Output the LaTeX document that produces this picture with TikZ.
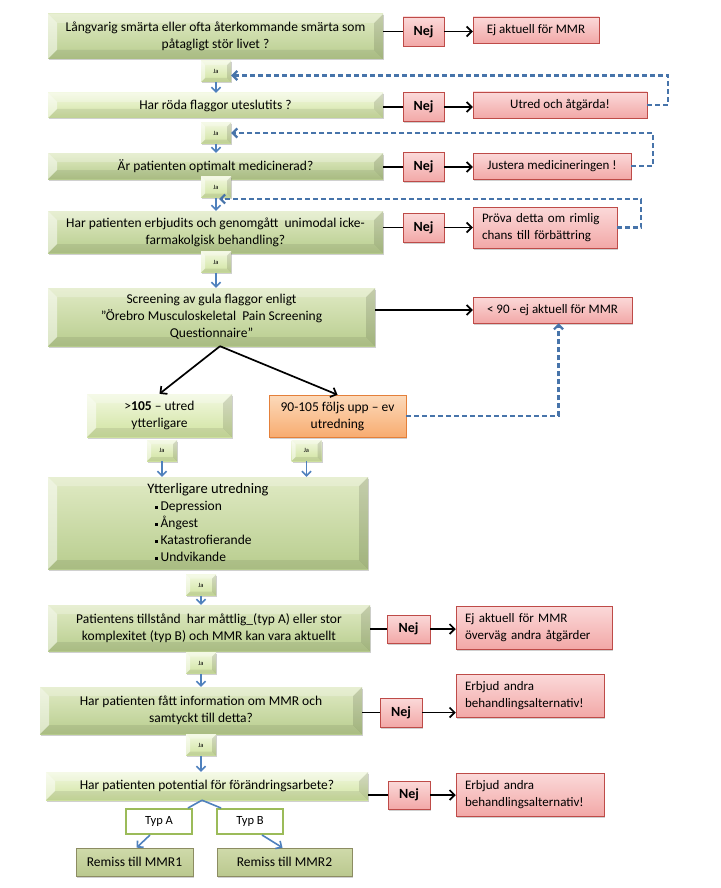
\documentclass[tikz,border=0pt]{standalone}
\usepackage{fontspec}
\setmainfont{Carlito}
\usetikzlibrary{arrows.meta,shadows,calc}
\definecolor{gtop}{HTML}{E0EAC4}
\definecolor{gbot}{HTML}{B8CD8E}
\definecolor{ltop}{HTML}{F2F8E0}
\definecolor{lbot}{HTML}{D0E3A0}
\definecolor{rtop}{HTML}{FBD9D9}
\definecolor{rbot}{HTML}{F2A8A7}
\definecolor{rdraw}{HTML}{BE4B48}
\definecolor{otop}{HTML}{FCDABB}
\definecolor{obot}{HTML}{F8AC70}
\definecolor{odraw}{HTML}{E4803A}
\definecolor{blu}{HTML}{4F81BD}
\definecolor{remtop}{HTML}{CFDAAA}
\definecolor{rembot}{HTML}{BAC88E}
\definecolor{remdraw}{HTML}{8C8C62}
\definecolor{typcol}{HTML}{9BBB59}
\newcommand\sqb{\raisebox{2.2pt}{\rule{3pt}{3pt}}\,}
\begin{document}
\begin{tikzpicture}[x=1pt,y=-1pt,
  bevel/.style={path picture={
    \fill[white,opacity=.5] (path picture bounding box.north west) -- ++(#1,#1)
      -- ($(path picture bounding box.south west)+(#1,-#1)$) -- (path picture bounding box.south west) -- cycle;
    \fill[black,opacity=.12] (path picture bounding box.north east) -- ++(-#1,#1)
      -- ($(path picture bounding box.south east)+(-#1,-#1)$) -- (path picture bounding box.south east) -- cycle;
    \fill[white,opacity=.25] (path picture bounding box.north west) -- ++(#1,#1)
      -- ($(path picture bounding box.north east)+(-#1,#1)$) -- (path picture bounding box.north east) -- cycle;
    \fill[black,opacity=.08] (path picture bounding box.south west) -- ++(#1,-#1)
      -- ($(path picture bounding box.south east)+(-#1,-#1)$) -- (path picture bounding box.south east) -- cycle;
  }},
  bevel/.default=9,
  shad/.style={drop shadow={shadow xshift=1pt,shadow yshift=-1.5pt,opacity=.3,fill=black!60}},
  base/.style={inner sep=2pt, align=center, font=\fontsize{13.5}{17}\selectfont, text=black},
  mainbox/.style={base, shad, top color=gtop, bottom color=gbot, bevel},
  litebox/.style={base, shad, top color=ltop, bottom color=lbot, bevel},
  jabox/.style={shad, top color=ltop, bottom color=lbot, bevel=4, minimum width=30, minimum height=21,
    inner sep=0pt, font=\fontsize{6.5}{7}\selectfont},
  redbox/.style={base, shad, top color=rtop, bottom color=rbot, draw=rdraw, line width=.5pt,
    font=\fontsize{13}{17}\selectfont},
  nejbox/.style={redbox, minimum width=41, minimum height=29, font=\bfseries\fontsize{14}{16}\selectfont},
  orbox/.style={base, shad, top color=otop, bottom color=obot, draw=odraw, line width=.5pt},
  typbox/.style={base, draw=typcol, line width=2pt, fill=white, font=\fontsize{12.5}{14}\selectfont},
  rembox/.style={base, shad, top color=remtop, bottom color=rembot, draw=remdraw, line width=.6pt},
  nejline/.style={line width=1.8pt, black},
  blk/.style={line width=1.7pt, black, -{Straight Barb[length=5pt,width=10pt]}},
  bl/.style={line width=1.6pt, blu},
  blarr/.style={bl, -{Straight Barb[length=4.5pt,width=9pt]}},
  fb/.style={line width=2.2pt, blu!90!black, dash pattern=on 5pt off 3pt, -{Straight Barb[length=4.5pt,width=9pt]}}
]
\useasboundingbox[fill=white] (0,0) rectangle (720,888);

% row 1
\node[mainbox, minimum width=335, minimum height=45] (box1) at (215.5,36.5)
  {Långvarig smärta eller ofta återkommande smärta som\\påtagligt stör livet ?};
\node[nejbox] (nej1) at (423.5,31.5) {Nej};
\node[redbox, minimum width=126, minimum height=26] (ej1) at (536,30) {Ej aktuell för MMR};
\node[jabox] (ja1) at (216,71.5) {Ja};

% row 2
\node[litebox, minimum width=335, minimum height=25] (box2) at (215.5,105.5) {Har röda flaggor uteslutits ?};
\node[nejbox] (nej2) at (423.5,107) {Nej};
\node[redbox, minimum width=174, minimum height=26] (utred) at (560,105) {Utred och åtgärda!};
\node[jabox] (ja2) at (216,133) {Ja};

% row 3
\node[mainbox, minimum width=335, minimum height=26] (box3) at (215.5,166) {Är patienten optimalt medicinerad?};
\node[nejbox] (nej3) at (423.5,167) {Nej};
\node[redbox, minimum width=158, minimum height=26] (justera) at (552,166) {Justera medicineringen !};
\node[jabox] (ja3) at (216,187) {Ja};

% row 4
\node[mainbox, minimum width=335, minimum height=42] (box4) at (215.5,232)
  {Har patienten erbjudits och genomgått\ \ unimodal icke-\\farmakolgisk behandling?};
\node[nejbox] (nej4) at (423.5,227.5) {Nej};
\node[redbox, minimum width=144, minimum height=41, align=left, text width=126, inner xsep=9pt] (prova) at (545,227.5)
  {Pröva detta om rimlig\\chans till förbättring};
\node[jabox] (ja4) at (216,262) {Ja};

% row 5
\node[mainbox, minimum width=327, minimum height=58] (box5) at (211.5,317)
  {Screening av gula flaggor enligt\\”Örebro Musculoskeletal\ \ Pain Screening\\Questionnaire”};
\node[redbox, minimum width=159, minimum height=26] (lt90) at (552.5,310) {< 90 - ej aktuell för MMR};
\node[litebox, minimum width=145, minimum height=43] (gt105) at (159.5,415.5) {>\textbf{105} – utred\\ytterligare};
\node[orbox, minimum width=137, minimum height=42] (orange) at (337.5,416) {90-105 följs upp – ev\\utredning};
\node[jabox] (ja5) at (162,450.5) {Ja};
\node[jabox] (ja6) at (306.5,450.5) {Ja};

% row 6
\node[mainbox, minimum width=320, minimum height=92, align=left] (box6) at (208,523)
  {{\fontsize{14.5}{17}\selectfont Ytterligare utredning}\\
   \hspace*{8pt}\sqb Depression\\
   \hspace*{8pt}\sqb Ångest\\
   \hspace*{8pt}\sqb Katastrofierande\\
   \hspace*{8pt}\sqb Undvikande};
\node[jabox] (ja7) at (201,585) {Ja};

% row 7
\node[mainbox, minimum width=322, minimum height=46] (box7) at (209,628)
  {Patientens tillstånd\ \ har måttlig\_(typ A) eller stor\\komplexitet (typ B) och MMR\ kan vara aktuellt};
\node[nejbox, minimum width=43, minimum height=28] (nej5) at (408.5,629) {Nej};
\node[redbox, minimum width=156, minimum height=43, align=left, text width=138, inner xsep=9pt] (ej2) at (534,627.5)
  {Ej aktuell för MMR\\överväg andra åtgärder};
\node[jabox] (ja8) at (201,663) {Ja};

% row 8
\node[mainbox, minimum width=322, minimum height=47] (box8) at (201,710.5)
  {Har patienten fått information\ om MMR och\\samtyckt till detta?};
\node[nejbox, minimum width=42] (nej6) at (401,712.5) {Nej};
\node[redbox, minimum width=148, minimum height=43, align=left, text width=130, inner xsep=9pt] (erb1) at (530,695.5)
  {Erbjud andra\\behandlingsalternativ!};
\node[jabox] (ja9) at (201,745) {Ja};

% row 9
\node[litebox, minimum width=322, minimum height=28] (box9) at (207,786) {Har patienten potential för förändringsarbete?};
\node[nejbox, minimum width=42, minimum height=28] (nej7) at (409,795) {Nej};
\node[redbox, minimum width=148, minimum height=43, align=left, text width=130, inner xsep=9pt] (erb2) at (530,794.5)
  {Erbjud andra\\behandlingsalternativ!};
\node[typbox, minimum width=66, minimum height=25] (typA) at (159,821.5) {Typ A};
\node[typbox, minimum width=66, minimum height=25] (typB) at (250,821.5) {Typ B};
\node[rembox, minimum width=117, minimum height=28] (rem1) at (134.5,862) {Remiss till MMR1};
\node[rembox, minimum width=135, minimum height=28] (rem2) at (284.5,862) {Remiss till MMR2};

% Nej connectors
\foreach \b/\n/\r in {box1/nej1/ej1, box2/nej2/utred, box3/nej3/justera, box4/nej4/prova,
                      box7/nej5/ej2, box8/nej6/erb1, box9/nej7/erb2}{
  \draw[nejline] (\n.west -| \b.east) -- (\n.west);
  \draw[blk] (\n.east) -- (\n.east -| \r.west);
}

% Ja arrows
\draw[blarr] (ja1.south) -- (ja1.south |- box2.north);
\draw[blarr] (ja2.south) -- (ja2.south |- box3.north);
\draw[blarr] (ja3.south) -- (ja3.south |- box4.north);
\draw[blarr] (ja4.south) -- (ja4.south |- box5.north);
\draw[blarr] (ja5.south) -- (ja5.south |- box6.north);
\draw[blarr] (ja6.south) -- (ja6.south |- box6.north);
\draw[blarr] (ja7.south) -- (ja7.south |- box7.north);
\draw[blarr] (ja8.south) -- (ja8.south |- box8.north);
\draw[blarr] (ja9.south) -- (ja9.south |- box9.north);

% feedback loops
\draw[fb] (utred.east) -- ++(21,0) |- ([yshift=-4pt]ja1.east);
\draw[fb] (justera.east) -- ++(22,0) |- (ja2.east);
\coordinate (c3) at (219,199);
\draw[fb] (prova.east) -- ++(24,0) |- (c3);
\draw[fb] (orange.east) -| ([xshift=6pt]lt90.south);

% screening arrows
\draw[blk] (box5.east |- lt90.west) -- (lt90.west);
\coordinate (s5) at ([xshift=8.5pt]box5.south);
\draw[blk] (s5) -- (gt105.north);
\draw[blk] (s5) -- (orange.north);

% type split
\coordinate (apx) at ([xshift=-5pt]box9.south);
\draw[bl] (apx) -- ([xshift=-5pt]typA.north east);
\draw[bl] (apx) -- ([xshift=5pt]typB.north west);
\draw[blarr] ([xshift=-9pt]typA.south) -- ([xshift=2pt]rem1.north);
\draw[blarr] ([xshift=12pt]typB.south) -- ([xshift=-2pt]rem2.north);
\end{tikzpicture}
\end{document}
